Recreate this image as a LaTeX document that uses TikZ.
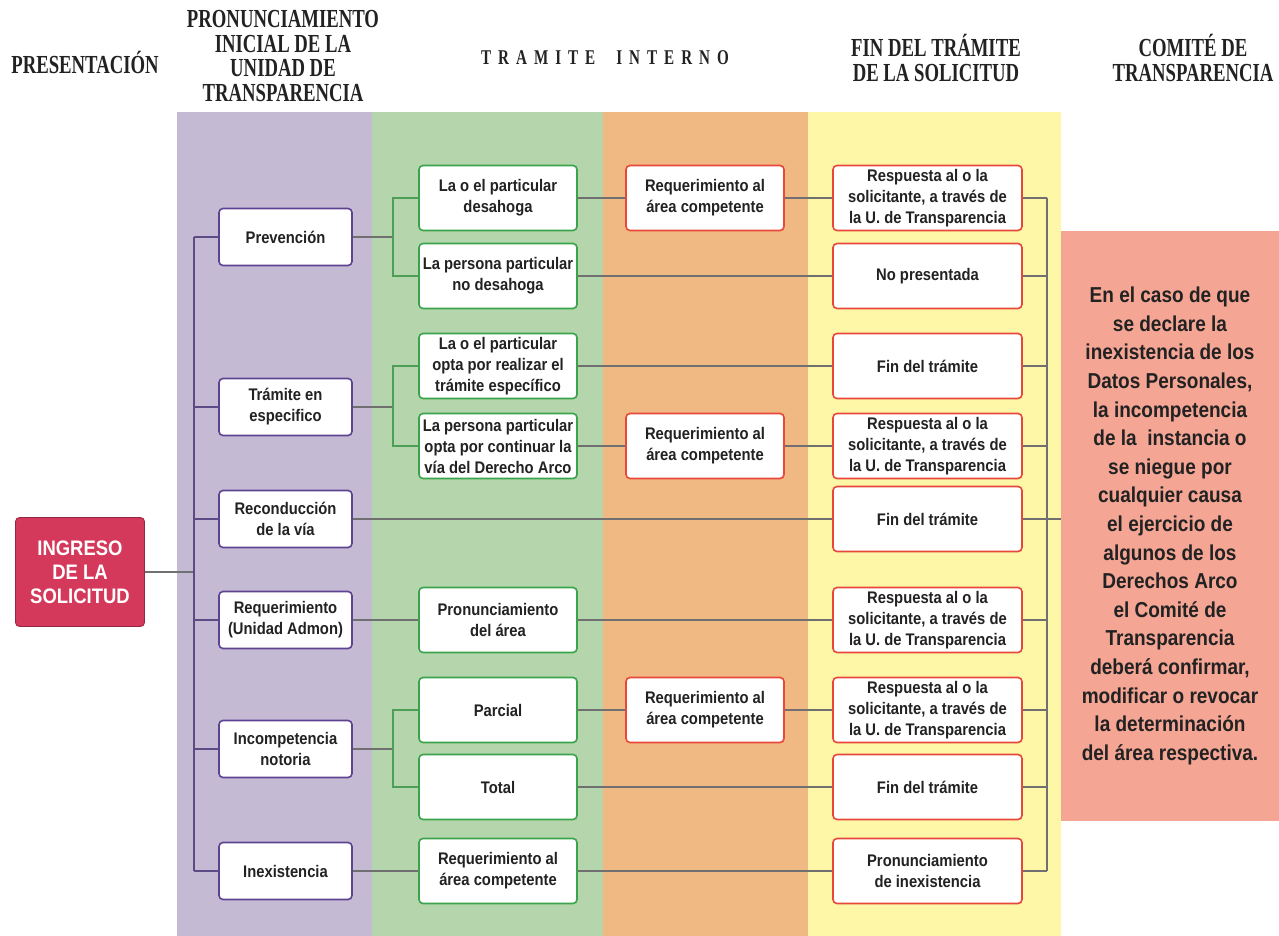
\documentclass[tikz,border=0pt]{standalone}
\usepackage{fontspec}
\setmainfont{Liberation Sans}[FakeStretch=0.88]
\newfontfamily\headfont{Liberation Serif}[FakeStretch=0.72]
\usetikzlibrary{positioning}

\definecolor{bandpurple}{HTML}{C4BAD4}
\definecolor{bandgreen}{HTML}{B5D6AC}
\definecolor{bandorange}{HTML}{F0B882}
\definecolor{bandyellow}{HTML}{FFF7A8}
\definecolor{comitefill}{HTML}{F4A594}
\definecolor{ingresofill}{HTML}{D4385A}
\definecolor{edgepurple}{HTML}{5E4393}
\definecolor{edgegreen}{HTML}{3BA34B}
\definecolor{edgered}{HTML}{E8473A}
\definecolor{linegray}{HTML}{707070}
\definecolor{spinepurple}{HTML}{5C4B84}
\definecolor{forkgreen}{HTML}{4E9E58}
\definecolor{textdark}{HTML}{222222}

\tikzset{
  box/.style={draw, rounded corners=2pt, fill=white, line width=0.8pt,
    align=center, inner sep=1pt, text=textdark,
    font=\bfseries\fontsize{8.4}{10.5}\selectfont},
  purplebox/.style={box, draw=edgepurple, minimum width=66.5pt, minimum height=28.5pt},
  greenbox/.style={box, draw=edgegreen, minimum width=79pt, minimum height=32.5pt},
  orangebox/.style={box, draw=edgered, minimum width=79pt, minimum height=32.5pt},
  yellowbox/.style={box, draw=edgered, minimum width=94.5pt, minimum height=32.5pt},
  heading/.style={align=center, text=textdark,
    font=\headfont\bfseries\fontsize{13}{12.25}\selectfont},
  link/.style={draw=linegray, line width=0.6pt},
}

\begin{document}
\begin{tikzpicture}[x=0.5pt, y=-0.5pt]
  \useasboundingbox (0,0) rectangle (1279,936);

  % bands
  \fill[bandpurple] (177,112) rectangle (372,936);
  \fill[bandgreen]  (372,112) rectangle (603,936);
  \fill[bandorange] (603,112) rectangle (808,936);
  \fill[bandyellow] (808,112) rectangle (1061,936);

  % headings
  \node[heading] (hpres) at (85,62) {PRESENTACIÓN};
  \node[heading] (hpron) at (283,56) {PRONUNCIAMIENTO\\INICIAL DE LA\\UNIDAD DE\\TRANSPARENCIA};
  \node[heading, font=\headfont\bfseries\fontsize{10.5}{12}\selectfont] (htram) at (605,58)
    {T\,\,R\,\,A\,\,M\,\,I\,\,T\,\,E\quad I\,\,N\,\,T\,\,E\,\,R\,\,N\,\,O};
  \node[heading] (hfin)  at (936,58) {FIN DEL TRÁMITE\\DE LA SOLICITUD};
  \node[heading] (hcom)  at (1193,58) {COMITÉ DE\\TRANSPARENCIA};

  % presentacion
  \node[draw=ingresofill!70!black, fill=ingresofill, rounded corners=2pt,
    minimum width=64.5pt, minimum height=54.5pt, align=center, text=white,
    font=\bfseries\fontsize{10.5}{12}\selectfont] (ingreso) at (80,572)
    {INGRESO\\DE LA\\SOLICITUD};

  % pronunciamiento inicial
  \node[purplebox] (prev) at (285.5,237) {Prevención};
  \node[purplebox] (tram) at (285.5,407) {Trámite en\\especifico};
  \node[purplebox] (reco) at (285.5,519) {Reconducción\\de la vía};
  \node[purplebox] (requ) at (285.5,620) {Requerimiento\\(Unidad Admon)};
  \node[purplebox] (inco) at (285.5,749) {Incompetencia\\notoria};
  \node[purplebox] (inex) at (285.5,871) {Inexistencia};

  % tramite interno
  \node[greenbox] (desa)   at (498,198) {La o el particular\\desahoga};
  \node[greenbox] (nodesa) at (498,276) {La persona particular\\no desahoga};
  \node[greenbox] (opta)   at (498,366) {La o el particular\\opta por realizar el\\trámite específico};
  \node[greenbox] (cont)   at (498,446) {La persona particular\\opta por continuar la\\vía del Derecho Arco};
  \node[greenbox] (pronar) at (498,620) {Pronunciamiento\\del área};
  \node[greenbox] (parc)   at (498,710) {Parcial};
  \node[greenbox] (tota)   at (498,787) {Total};
  \node[greenbox] (reqin)  at (498,871) {Requerimiento al\\área competente};

  \node[orangebox] (reqa) at (705,198) {Requerimiento al\\área competente};
  \node[orangebox] (reqb) at (705,446) {Requerimiento al\\área competente};
  \node[orangebox] (reqc) at (705,710) {Requerimiento al\\área competente};

  % fin del tramite
  \node[yellowbox] (resa)  at (927.5,198) {Respuesta al o la\\solicitante, a través de\\la U. de Transparencia};
  \node[yellowbox] (nopr)  at (927.5,276) {No presentada};
  \node[yellowbox] (fina)  at (927.5,366) {Fin del trámite};
  \node[yellowbox] (resb)  at (927.5,446) {Respuesta al o la\\solicitante, a través de\\la U. de Transparencia};
  \node[yellowbox] (finb)  at (927.5,519) {Fin del trámite};
  \node[yellowbox] (resc)  at (927.5,620) {Respuesta al o la\\solicitante, a través de\\la U. de Transparencia};
  \node[yellowbox] (resd)  at (927.5,710) {Respuesta al o la\\solicitante, a través de\\la U. de Transparencia};
  \node[yellowbox] (finc)  at (927.5,787) {Fin del trámite};
  \node[yellowbox] (prinex) at (927.5,871) {Pronunciamiento\\de inexistencia};

  % comite
  \node[fill=comitefill, minimum width=109pt, minimum height=295pt, align=center,
    text=textdark, font=\bfseries\fontsize{10.8}{14.3}\selectfont] (comite) at (1170,526)
    {En el caso de que\\se declare la\\inexistencia de los\\Datos Personales,\\la incompetencia\\de la~ instancia o\\se niegue por\\cualquier causa\\el ejercicio de\\algunos de los\\Derechos Arco\\el Comité de\\Transparencia\\deberá confirmar,\\modificar o revocar\\la determinación\\del área respectiva.};

  % spines and forks
  \coordinate (ls) at (194,0);
  \coordinate (rs) at (1047,0);
  \coordinate (fp) at (393,237);
  \coordinate (ft) at (393,407);
  \coordinate (fi) at (393,749);

  \begin{scope}[link]
    \draw (ingreso.east) -- (ingreso.east -| ls);
    \draw (prev.east) -- (fp);
    \draw (tram.east) -- (ft);
    \draw (inco.east) -- (fi);
    \draw (reco.east) -- (finb.west);
    \draw (requ.east) -- (pronar.west);
    \draw (inex.east) -- (reqin.west);
    \draw (desa.east) -- (reqa.west);
    \draw (reqa.east) -- (resa.west);
    \draw (nodesa.east) -- (nopr.west);
    \draw (opta.east) -- (fina.west);
    \draw (cont.east) -- (reqb.west);
    \draw (reqb.east) -- (resb.west);
    \draw (pronar.east) -- (resc.west);
    \draw (parc.east) -- (reqc.west);
    \draw (reqc.east) -- (resd.west);
    \draw (tota.east) -- (finc.west);
    \draw (reqin.east) -- (prinex.west);
    \foreach \n in {resa,nopr,fina,resb,finb,resc,resd,finc,prinex}
      \draw (\n.east) -- (\n.east -| rs);
    \draw (resa.east -| rs) -- (prinex.east -| rs);
    \draw (finb.east -| rs) -- (comite.west |- finb.east);
  \end{scope}

  \begin{scope}[draw=spinepurple, line width=0.7pt]
    \draw (prev.west -| ls) -- (inex.west -| ls);
    \foreach \n in {prev,tram,reco,requ,inco,inex}
      \draw (\n.west -| ls) -- (\n.west);
  \end{scope}

  \begin{scope}[draw=forkgreen, line width=0.6pt]
    \draw (fp) |- (desa.west);
    \draw (fp) |- (nodesa.west);
    \draw (ft) |- (opta.west);
    \draw (ft) |- (cont.west);
    \draw (fi) |- (parc.west);
    \draw (fi) |- (tota.west);
  \end{scope}
\end{tikzpicture}
\end{document}
